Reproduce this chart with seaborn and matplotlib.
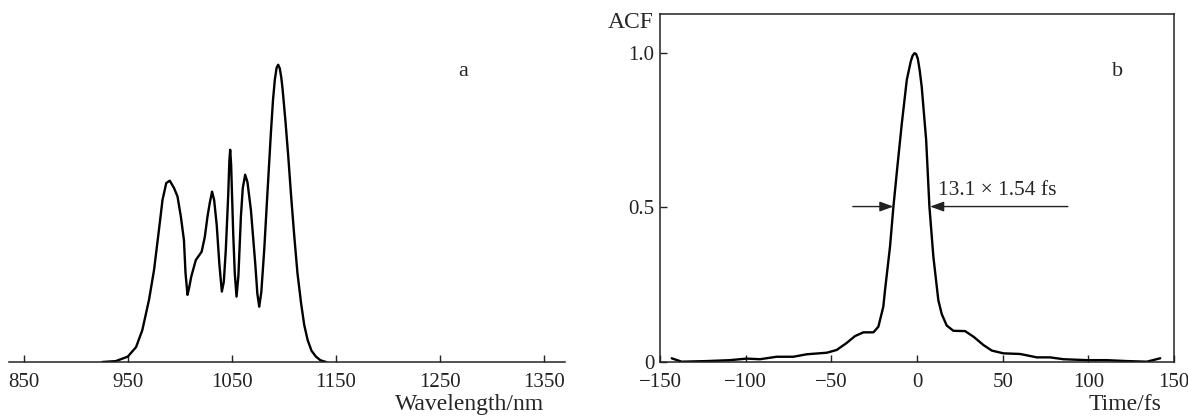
import numpy as np
import matplotlib
matplotlib.use("Agg")
import matplotlib.pyplot as plt
import pandas as pd
import seaborn as sns

# spectrum (panel a)
wavelength = [925.7, 938.5, 950.0, 958.0, 964.0, 970.5, 975.3, 980.0, 983.4, 987.0,
              990.4, 994.5, 997.8, 1001.0, 1004.0, 1005.5, 1007.4, 1009.0, 1011.0, 1015.4,
              1021.0, 1024.0, 1026.6, 1028.8, 1031.0, 1033.0, 1035.5, 1038.0, 1040.4, 1042.3,
              1044.2, 1045.5, 1046.5, 1047.6, 1048.4, 1049.3, 1050.3, 1051.3, 1052.8, 1054.5,
              1056.3, 1058.7, 1060.5, 1062.8, 1065.0, 1068.3, 1072.5, 1074.5, 1076.3, 1078.3,
              1081.1, 1084.3, 1087.5, 1089.5, 1091.3, 1093.0, 1094.5, 1096.0, 1097.5, 1098.8,
              1101.5, 1104.2, 1107.0, 1110.0, 1113.0, 1116.5, 1119.5, 1122.8, 1126.5, 1130.8,
              1135.0, 1140.4]
intensity = [0.0, 0.003, 0.018, 0.05, 0.107, 0.21, 0.31, 0.445, 0.545, 0.602,
             0.61, 0.585, 0.557, 0.49, 0.41, 0.30, 0.226, 0.25, 0.287, 0.343,
             0.371, 0.42, 0.489, 0.535, 0.573, 0.545, 0.46, 0.33, 0.237, 0.27,
             0.377, 0.48, 0.56, 0.675, 0.714, 0.665, 0.55, 0.434, 0.30, 0.22,
             0.29, 0.489, 0.585, 0.63, 0.605, 0.512, 0.33, 0.23, 0.186, 0.235,
             0.377, 0.575, 0.77, 0.88, 0.95, 0.99, 1.0, 0.988, 0.957, 0.916,
             0.81, 0.691, 0.555, 0.422, 0.30, 0.198, 0.125, 0.074, 0.038, 0.018,
             0.006, 0.0]

# autocorrelation (panel b)
delay = [-143.2, -137.4, -122.8, -109.2, -99.4, -91.7, -81.9, -72.2, -64.4, -52.7,
         -46.9, -41.0, -36.2, -31.3, -25.5, -22.6, -19.7, -18.7, -15.8, -13.8,
         -11.5, -8.9, -6.0, -3.7, -2.7, -1.6, -0.6, 0.4, 1.5, 2.7,
         5.3, 7.2, 9.5, 12.4, 14.4, 17.3, 21.2, 28.0, 32.9, 38.7,
         43.6, 50.4, 60.1, 69.9, 77.6, 85.4, 99.1, 110.7, 122.4, 134.1,
         141.9]
acf = [0.012, 0.001, 0.003, 0.006, 0.011, 0.009, 0.017, 0.017, 0.025, 0.03,
       0.039, 0.062, 0.084, 0.096, 0.096, 0.114, 0.179, 0.233, 0.373, 0.503,
       0.632, 0.772, 0.913, 0.972, 0.99, 0.999, 0.997, 0.982, 0.945, 0.891,
       0.718, 0.503, 0.341, 0.2, 0.155, 0.118, 0.101, 0.1, 0.082, 0.055,
       0.037, 0.028, 0.026, 0.015, 0.015, 0.009, 0.006, 0.006, 0.003, 0.001,
       0.012]

wl_ticks = [850, 950, 1050, 1150, 1250, 1350]
t_ticks = [-150, -100, -50, 0, 50, 100, 150]
t_ticklabels = ["\u2212150", "\u2212100", "\u221250", "0", "50", "100", "150"]
acf_ticks = [0, 0.5, 1.0]
acf_ticklabels = ["0", "0.5", "1.0"]

sns.set_style("ticks")
plt.rcParams["font.family"] = ["Liberation Serif", "DejaVu Serif"]
plt.rcParams["font.size"] = 15
plt.rcParams["axes.linewidth"] = 1.1
plt.rcParams["xtick.direction"] = "in"
plt.rcParams["ytick.direction"] = "in"
plt.rcParams["xtick.major.size"] = 5
plt.rcParams["ytick.major.size"] = 5
plt.rcParams["xtick.major.width"] = 1.0
plt.rcParams["ytick.major.width"] = 1.0
plt.rcParams["xtick.color"] = "#222222"
plt.rcParams["ytick.color"] = "#222222"

fig = plt.figure(figsize=(11.88, 4.16), dpi=100)
axa = fig.add_axes([0.0076, 0.1298, 0.468, 0.786])
axb = fig.add_axes([0.5556, 0.1298, 0.4327, 0.8365])

# panel a
df_a = pd.DataFrame({"wl": wavelength, "I": intensity})
sns.lineplot(data=df_a, x="wl", y="I", ax=axa, color="black", lw=1.7)
axa.set_xlim(836, 1370)
axa.set_ylim(0, 1.1)
axa.set_xticks(wl_ticks)
axa.set_yticks([])
for s in ["left", "top", "right"]:
    axa.spines[s].set_visible(False)
axa.spines["bottom"].set_color("#222222")
axa.tick_params(axis="x", pad=8, labelsize=15)
axa.set_xlabel("")
axa.set_ylabel("")
axa.text(0.962, -0.13, "Wavelength/nm", transform=axa.transAxes,
         ha="right", va="center", fontsize=17)
axa.text(1272, 0.976, "a", ha="center", va="center", fontsize=16)

# panel b
df_b = pd.DataFrame({"t": delay, "acf": acf})
sns.lineplot(data=df_b, x="t", y="acf", ax=axb, color="black", lw=1.7)
axb.set_xlim(-150, 150)
axb.set_ylim(0, 1.126)
axb.set_xticks(t_ticks)
axb.set_xticklabels(t_ticklabels)
axb.set_yticks(acf_ticks)
axb.set_yticklabels(acf_ticklabels)
for s in axb.spines.values():
    s.set_color("#222222")
axb.tick_params(axis="x", pad=8, labelsize=15)
axb.tick_params(axis="y", pad=4, labelsize=15)
axb.set_xlabel("")
axb.set_ylabel("")
axb.text(0.975, -0.123, "Time/fs", transform=axb.transAxes,
         ha="right", va="center", fontsize=17)
axb.text(-0.012, 0.977, "ACF", transform=axb.transAxes, ha="right", va="center", fontsize=17)
axb.text(117, 0.94, "b", ha="center", va="center", fontsize=16)

arrow = dict(arrowstyle="-|>,head_length=0.55,head_width=0.2", color="#222222",
             lw=1.0, shrinkA=0, shrinkB=0)
axb.annotate("", xy=(-13.8, 0.503), xytext=(-37.5, 0.503), arrowprops=arrow)
axb.annotate("", xy=(7.6, 0.503), xytext=(88.0, 0.503), arrowprops=arrow)
axb.text(12.3, 0.555, "13.1 \u00d7 1.54 fs", ha="left", va="center", fontsize=15.5)

fig.savefig("out.png", dpi=100)
